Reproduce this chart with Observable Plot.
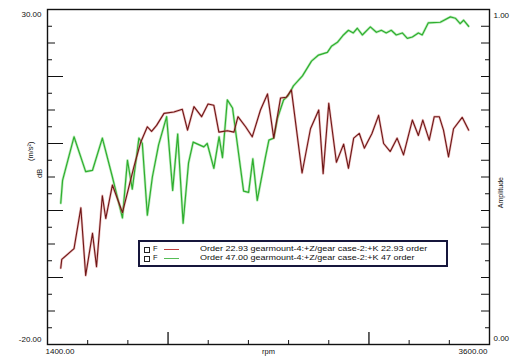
<!DOCTYPE html>
<html><head><meta charset="utf-8">
<script src="https://cdn.jsdelivr.net/npm/d3@7"></script>
<script src="https://cdn.jsdelivr.net/npm/@observablehq/plot@0.6"></script>
<style>
body{margin:0;background:#fff;}
#wrap{position:relative;width:515px;height:363px;overflow:hidden;font-family:"Liberation Sans",Arial,sans-serif;}
#legend{position:absolute;left:138px;top:240px;width:310px;height:27px;box-sizing:border-box;border:2px solid #16163c;background:#fff;font-size:7.5px;color:#111;}
.row{position:absolute;left:0;width:100%;height:8px;line-height:8px;white-space:nowrap;}
.cb{position:absolute;left:4px;top:2px;width:4px;height:4px;border:1px solid #222;}
.f{position:absolute;left:13px;top:0;}
.sw{position:absolute;left:24px;top:4px;width:15px;height:0;border-top:1px solid;}
.t{position:absolute;left:60px;top:0;transform:scaleX(1.2);transform-origin:0 50%;}
</style></head>
<body><div id="wrap"></div>
<script>
// Order 22.93 series (red)
const rpmRed = [1466,1471,1532,1566,1590,1624,1644,1673,1690,1723,1773,1830,1864,1897,1918,1943,1980,2029,2071,2097,2129,2167,2199,2228,2253,2295,2328,2348,2386,2419,2460,2495,2526,2560,2589,2614,2667,2709,2750,2772,2800,2838,2874,2898,2924,2952,2977,3015,3048,3073,3106,3140,3172,3216,3246,3268,3300,3325,3350,3371,3396,3421,3464,3496];
const dbRed = [-8.6,-7.3,-5.7,0.4,-9.7,-3.4,-8.4,2.2,-1.2,3.8,-0.3,6.5,10.2,12.5,11.8,12.7,14.5,14.7,15.1,12.0,15.5,14.0,15.9,15.7,11.7,11.9,11.7,14.0,12.5,11.0,15.0,17.4,10.8,16.8,16.9,18.0,5.6,12.2,15.0,5.5,16.0,7.2,9.9,6.3,10.8,11.5,9.3,11.5,14.2,10.0,8.8,10.8,8.3,13.5,11.2,13.5,10.5,14.0,14.0,12.0,8.0,12.2,13.9,12.0];
// Order 47.00 series (green)
const rpmGreen = [1466,1475,1532,1590,1624,1673,1723,1773,1798,1822,1855,1872,1897,1922,1953,1993,2023,2048,2075,2102,2125,2178,2195,2228,2254,2271,2295,2321,2376,2401,2422,2444,2485,2502,2526,2545,2575,2599,2624,2669,2714,2749,2793,2813,2843,2873,2898,2922,2942,2967,3007,3037,3062,3086,3111,3136,3166,3191,3216,3246,3265,3295,3355,3405,3430,3454,3471,3496];
const dbGreen = [1.1,4.5,11.0,5.8,6.0,10.8,5.0,-1.1,7.5,3.2,10.8,10.0,-0.7,5.0,9.8,14.0,3.0,11.4,-1.9,7.1,10.2,9.5,10.0,6.3,11.0,7.9,16.5,15.3,2.9,2.7,7.7,1.5,8.0,10.5,10.8,13.8,16.5,17.2,18.6,20.1,22.3,23.2,23.6,24.5,25.1,26.2,26.9,26.5,27.2,26.2,27.4,26.6,26.9,26.5,26.9,26.2,26.5,25.7,25.9,26.5,26.2,28.0,28.1,28.9,28.7,27.9,28.4,27.5];

const seriesNames = ["Order 22.93 gearmount-4:+Z/gear case-2:+K 22.93 order", "Order 47.00 gearmount-4:+Z/gear case-2:+K 47 order"];
const xDomain = [1400, 3600];
const yDomain = [-20, 30];
const ampDomain = [0, 1];
const xTitle = "rpm", yTitle1 = "(m/s²)", yTitle2 = "dB", rightTitle = "Amplitude";

const red = rpmRed.map((r, i) => ({rpm: r, db: dbRed[i]}));
const green = rpmGreen.map((r, i) => ({rpm: r, db: dbGreen[i]}));

const W = 515, H = 363, mL = 47, mR = 26, mT = 9, mB = 19;
const pw = W - mL - mR, ph = H - mT - mB;
const yTicks = d3.range(-17.5, 30, 2.5);
const longY = yTicks.filter(d => d % 10 === 0);
const medY = yTicks.filter(d => d % 5 === 0 && d % 10 !== 0);
const shortY = yTicks.filter(d => d % 5 !== 0);
const xTicks = d3.range(1600, 3600, 200);
const longX = xTicks.filter(d => d % 1000 === 0);
const shortX = xTicks.filter(d => d % 1000 !== 0);
const ampToDb = a => yDomain[0] + a * (yDomain[1] - yDomain[0]);
const dbToAmp = d => (d - yDomain[0]) / (yDomain[1] - yDomain[0]);
const rShort = yTicks.filter((d, i) => i % 4 === 0);
const rLong = yTicks.filter((d, i) => i % 4 !== 0);

const ax = {tickSize: 0, label: null};
const chart = Plot.plot({
  width: W, height: H,
  marginLeft: mL, marginRight: mR, marginTop: mT, marginBottom: mB,
  style: {fontFamily: "'Liberation Sans', Arial, sans-serif", fontSize: "8px", color: "#111", background: "#fff"},
  x: {domain: xDomain, axis: null, label: null},
  y: {domain: yDomain, axis: null, label: null},
  marks: [
    Plot.line(green, {x: "rpm", y: "db", stroke: "#86dc86", strokeWidth: 2.6, strokeOpacity: 0.55}),
    Plot.line(green, {x: "rpm", y: "db", stroke: "#2fae2f", strokeWidth: 1.2}),
    Plot.line(red, {x: "rpm", y: "db", stroke: "#d06a6a", strokeWidth: 2.4, strokeOpacity: 0.45}),
    Plot.line(red, {x: "rpm", y: "db", stroke: "#6e1616", strokeWidth: 1.1}),
    Plot.frame({stroke: "#111", strokeWidth: 1.4}),
    Plot.tickY(longY, {y: d => d, insetRight: pw - 16, stroke: "#111"}),
    Plot.tickY(medY, {y: d => d, insetRight: pw - 8, stroke: "#111"}),
    Plot.tickY(shortY, {y: d => d, insetRight: pw - 5, stroke: "#111"}),
    Plot.tickY(rLong, {y: d => d, insetLeft: pw - 8, stroke: "#111"}),
    Plot.tickY(rShort, {y: d => d, insetLeft: pw - 4, stroke: "#111"}),
    Plot.tickX(longX, {x: d => d, insetTop: ph - 12, stroke: "#111", strokeWidth: 1.3}),
    Plot.tickX(shortX, {x: d => d, insetTop: ph - 4, stroke: "#111"}),
    Plot.axisY([yDomain[1]], {...ax, anchor: "left", tickPadding: 6, tickFormat: d => d.toFixed(2), dy: 5}),
    Plot.axisY([yDomain[0]], {...ax, anchor: "left", tickPadding: 6, tickFormat: d => d.toFixed(2), dy: -5}),
    Plot.axisY([ampToDb(ampDomain[1])], {...ax, anchor: "right", tickPadding: 4, tickFormat: d => dbToAmp(d).toFixed(2), dy: 6}),
    Plot.axisY([ampToDb(ampDomain[0])], {...ax, anchor: "right", tickPadding: 4, tickFormat: d => dbToAmp(d).toFixed(2), dy: -6}),
    Plot.axisX([xDomain[0]], {...ax, anchor: "bottom", tickPadding: 4, textAnchor: "start", dx: -2, tickFormat: d => d.toFixed(2)}),
    Plot.axisX([xDomain[1]], {...ax, anchor: "bottom", tickPadding: 4, textAnchor: "end", dx: -2, tickFormat: d => d.toFixed(2)}),
    Plot.text([xTitle], {frameAnchor: "bottom", dy: 9, text: d => d, fontSize: 7.5}),
    Plot.text([yTitle1], {frameAnchor: "left", dx: -17, dy: -16, rotate: -90, text: d => d, fontSize: 7.5}),
    Plot.text([yTitle2], {frameAnchor: "left", dx: -8, dy: 1, rotate: -90, text: d => d, fontSize: 7.5}),
    Plot.text([rightTitle], {frameAnchor: "right", dx: 11, dy: 0, rotate: -90, text: d => d, fontSize: 7})
  ]
});
const wrap = document.getElementById("wrap");
wrap.appendChild(chart);

const legend = document.createElement("div");
legend.id = "legend";
const colors = ["#c0403f", "#55bd55"];
seriesNames.forEach((name, i) => {
  const row = document.createElement("div");
  row.className = "row";
  row.style.top = (3 + i * 9) + "px";
  row.innerHTML = `<span class="cb"></span><span class="f">F</span><span class="sw" style="border-color:${colors[i]}"></span><span class="t">${name}</span>`;
  legend.appendChild(row);
});
wrap.appendChild(legend);
</script>
</body></html>
